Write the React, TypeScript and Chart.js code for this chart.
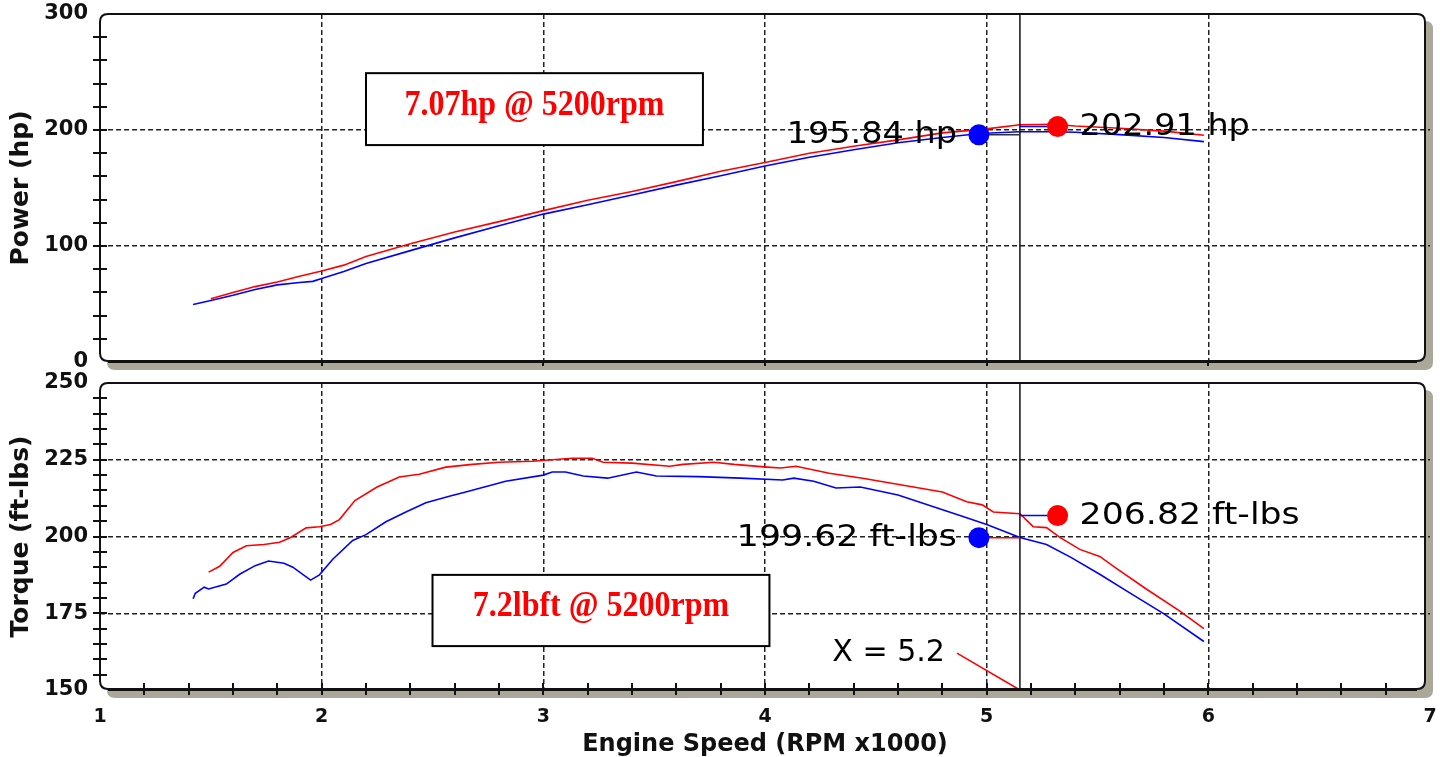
import React, { useEffect, useRef } from "react";
import { Chart, registerables } from "chart.js";
Chart.register(...registerables);

// ---------------- data ----------------
const xTickValues = [1, 2, 3, 4, 5, 6, 7];
const powerTicks = [0, 100, 200, 300];
const torqueTicks = [150, 175, 200, 225, 250];

const bluePowerRpm = [1.42, 1.5, 1.6, 1.7, 1.8, 1.9, 1.96, 2.0, 2.1, 2.2, 2.4, 2.6, 2.8, 3.0, 3.2, 3.4, 3.6, 3.8, 4.0, 4.2, 4.4, 4.6, 4.8, 4.97, 5.15, 5.3, 5.4, 5.6, 5.8, 5.98];
const bluePowerHp = [49.5, 53, 57.5, 62.5, 66.5, 68.5, 69.5, 72, 78, 85, 96, 107, 117.5, 127.5, 135.5, 144, 152.5, 160.5, 169, 176.5, 183, 189, 193.5, 197, 198.5, 198.5, 198, 196, 193.5, 190];

const redPowerRpm = [1.5, 1.6, 1.7, 1.8, 1.9, 2.0, 2.1, 2.2, 2.4, 2.6, 2.8, 3.0, 3.2, 3.4, 3.6, 3.8, 4.0, 4.2, 4.4, 4.6, 4.8, 5.0, 5.15, 5.3, 5.4, 5.6, 5.8, 5.98];
const redPowerHp = [54.5, 60, 65, 69, 74, 78.5, 83.5, 91, 102, 112, 121, 130.5, 139.5, 147, 155.5, 164.5, 172, 180, 186, 191.5, 197.5, 201, 204.5, 205, 203.5, 201.5, 199, 195.5];

const blueTorqueRpm = [1.42, 1.43, 1.47, 1.49, 1.57, 1.63, 1.7, 1.76, 1.83, 1.87, 1.95, 1.99, 2.05, 2.14, 2.2, 2.29, 2.38, 2.47, 2.58, 2.65, 2.83, 3.0, 3.04, 3.1, 3.18, 3.29, 3.42, 3.51, 3.7, 3.89, 4.08, 4.13, 4.22, 4.32, 4.43, 4.6, 4.76, 4.91, 5.0, 5.15, 5.27, 5.38, 5.51, 5.64, 5.8, 5.98];
const blueTorqueLbft = [179.7, 181.5, 183.5, 182.9, 184.5, 187.7, 190.5, 192, 191.3, 190, 185.8, 187.5, 192.6, 198.7, 200.6, 204.8, 208, 211, 213.2, 214.5, 218, 220, 221, 221, 219.7, 219, 221, 219.7, 219.5, 219, 218.4, 219, 218, 215.8, 216.1, 213.5, 209.7, 206.1, 203.9, 199.7, 197.4, 193.2, 187.7, 181.9, 174.8, 165.8];

const redTorqueRpm = [1.49, 1.54, 1.6, 1.66, 1.74, 1.81, 1.86, 1.93, 1.99, 2.04, 2.08, 2.15, 2.25, 2.35, 2.44, 2.56, 2.68, 2.8, 2.95, 3.13, 3.22, 3.27, 3.4, 3.57, 3.63, 3.77, 3.86, 4.01, 4.07, 4.14, 4.29, 4.44, 4.67, 4.8, 4.91, 4.98, 5.03, 5.15, 5.21, 5.27, 5.33, 5.42, 5.51, 5.59, 5.72, 5.87, 5.98];
const redTorqueLbft = [188.4, 190.3, 194.8, 197, 197.4, 198.1, 199.7, 202.8, 203.2, 203.9, 205.5, 211.7, 216.1, 219.4, 220.3, 222.6, 223.5, 224.2, 224.5, 225.5, 225.5, 224.2, 223.9, 222.9, 223.5, 224.2, 223.5, 222.6, 222.3, 222.9, 220.6, 219, 216.1, 214.5, 211.3, 210.3, 208, 207.4, 203.2, 202.9, 199.7, 195.8, 193.5, 189.4, 182.9, 175.8, 170];

const markerRpm = [4.965, 5.32]; // blue run, red run
const powerMarkerValues = [195.84, 202.91];
const torqueMarkerValues = [199.62, 206.82];
const cursorRpm = 5.15;

const powerLabels = ["195.84 hp", "202.91 hp"];
const torqueLabels = ["199.62 ft-lbs", "206.82 ft-lbs"];
const cursorLabel = "X = 5.2";
const powerBoxText = "7.07hp @ 5200rpm";
const torqueBoxText = "7.2lbft @ 5200rpm";

// ---------------- helpers ----------------
const RED = "#ff0000";
const BLUE = "#0000ff";
const GRID = "#222222";

function pts(xs: number[], ys: number[]) {
  return xs.map((x, i) => ({ x, y: ys[i] }));
}

function roundRectPath(ctx: CanvasRenderingContext2D, x: number, y: number, w: number, h: number, r: number) {
  ctx.beginPath();
  ctx.moveTo(x + r, y);
  ctx.lineTo(x + w - r, y);
  ctx.quadraticCurveTo(x + w, y, x + w, y + r);
  ctx.lineTo(x + w, y + h - r);
  ctx.quadraticCurveTo(x + w, y + h, x + w - r, y + h);
  ctx.lineTo(x + r, y + h);
  ctx.quadraticCurveTo(x, y + h, x, y + h - r);
  ctx.lineTo(x, y + r);
  ctx.quadraticCurveTo(x, y, x + r, y);
  ctx.closePath();
}

function drawScaledText(ctx: CanvasRenderingContext2D, text: string, x: number, y: number, align: CanvasTextAlign, font: string, color: string, sx: number, sy = 1, baseline: CanvasTextBaseline = "middle") {
  ctx.save();
  ctx.translate(x, y);
  ctx.scale(sx, sy);
  ctx.font = font;
  ctx.fillStyle = color;
  ctx.textAlign = align;
  ctx.textBaseline = baseline;
  ctx.fillText(text, 0, 0);
  ctx.restore();
}

type PanelCfg = {
  name: string;
  yStep: number;
  xMinor: boolean;
  labelScale: number;
  box: { x0: number; x1: number; y0: number; y1: number; text: string };
  labels: { text: string; x: number; y: number; align: CanvasTextAlign; dx: number }[];
  leader?: { text: string; x0: number; y0: number; x1: number; y1: number };
};

function panelPlugin(cfg: PanelCfg) {
  return {
    id: "panel_" + cfg.name,
    beforeDraw(chart: any) {
      const { ctx, chartArea: a } = chart;
      const l = a.left, t = a.top, r = a.right - 5, b = a.bottom - 1;
      ctx.save();
      ctx.fillStyle = "#aca899";
      roundRectPath(ctx, l + 7, t + 7, r - l + 1, b - t + 2, 8);
      ctx.fill();
      ctx.fillStyle = "#ffffff";
      roundRectPath(ctx, l, t, r - l, b - t, 8);
      ctx.fill();
      ctx.restore();
    },
    afterDatasetsDraw(chart: any) {
      const { ctx } = chart;
      const xs = chart.scales.x, ys = chart.scales.y;
      ctx.save();
      const bx0 = xs.getPixelForValue(cfg.box.x0), bx1 = xs.getPixelForValue(cfg.box.x1);
      const by0 = ys.getPixelForValue(cfg.box.y0), by1 = ys.getPixelForValue(cfg.box.y1);
      ctx.fillStyle = "#ffffff";
      ctx.fillRect(bx0, by0, bx1 - bx0, by1 - by0);
      ctx.strokeStyle = "#000000";
      ctx.lineWidth = 2;
      ctx.strokeRect(bx0, by0, bx1 - bx0, by1 - by0);
      drawScaledText(ctx, cfg.box.text, (bx0 + bx1) / 2, (by0 + by1) / 2 + 6, "center", "bold 32px 'Liberation Serif'", RED, 1, 1.13, "alphabetic");
      cfg.labels.forEach((lb) => {
        drawScaledText(ctx, lb.text, xs.getPixelForValue(lb.x) + lb.dx, ys.getPixelForValue(lb.y), lb.align, "31px 'DejaVu Sans'", "#000000", cfg.labelScale);
      });
      if (cfg.leader) {
        const L = cfg.leader;
        const x0 = xs.getPixelForValue(L.x0), y0 = ys.getPixelForValue(L.y0);
        const x1 = xs.getPixelForValue(L.x1), y1 = ys.getPixelForValue(L.y1);
        drawScaledText(ctx, L.text, x0 - 12, y0, "right", "31px 'DejaVu Sans'", "#000000", 0.97);
        ctx.strokeStyle = RED;
        ctx.lineWidth = 1.5;
        ctx.beginPath();
        ctx.moveTo(x0, y0);
        ctx.lineTo(x1, y1);
        ctx.stroke();
      }
      ctx.restore();
    },
    afterDraw(chart: any) {
      const { ctx, chartArea: a } = chart;
      const xs = chart.scales.x, ys = chart.scales.y;
      const l = a.left, t = a.top, r = a.right - 5, b = a.bottom - 1;
      ctx.save();
      ctx.strokeStyle = "#111111";
      ctx.lineWidth = 2;
      roundRectPath(ctx, l, t, r - l, b - t, 8);
      ctx.stroke();
      ctx.beginPath();
      ctx.moveTo(l + 8, b + 1);
      ctx.lineTo(r - 8, b + 1);
      ctx.stroke();
      ctx.lineWidth = 2;
      ctx.beginPath();
      for (let v = ys.min + cfg.yStep; v < ys.max - 1e-6; v += cfg.yStep) {
        const y = Math.round(ys.getPixelForValue(v));
        ctx.moveTo(l - 7, y);
        ctx.lineTo(l + 7, y);
      }
      ctx.stroke();
      ctx.beginPath();
      if (cfg.xMinor) {
        for (let k = 1; k < 30; k++) {
          const v = xs.min + k * 0.2;
          const x = Math.round(xs.getPixelForValue(v));
          ctx.moveTo(x, b - 6);
          ctx.lineTo(x, b + 6);
        }
      } else {
        for (let v = xs.min + 1; v < xs.max; v += 1) {
          const x = Math.round(xs.getPixelForValue(v));
          ctx.moveTo(x, b);
          ctx.lineTo(x, b + 5);
        }
      }
      ctx.stroke();
      ctx.restore();
    },
  };
}

function gridColor(min: number, max: number) {
  return (c: any) => {
    const v = c.tick ? c.tick.value : null;
    if (v === null || Math.abs(v - min) < 1e-6 || Math.abs(v - max) < 1e-6) return "rgba(0,0,0,0)";
    return GRID;
  };
}

function zeroPadding(s: any) {
  s.paddingTop = 0;
  s.paddingBottom = 0;
  s.paddingLeft = 0;
  s.paddingRight = 0;
}

const tickFontY = { family: "'DejaVu Sans'", weight: "bold" as const, size: 21 };
const titleFontY = { family: "'DejaVu Sans'", weight: "bold" as const, size: 25, lineHeight: 1 };

function lineDs(data: any[], color: string, order: number, width = 1.6) {
  return {
    data,
    showLine: true,
    borderColor: color,
    backgroundColor: color,
    borderWidth: width,
    pointRadius: 0,
    pointHoverRadius: 0,
    tension: 0,
    fill: false,
    order,
  };
}

function markerDs(x: number, y: number, color: string) {
  return {
    data: [{ x, y }],
    showLine: false,
    pointRadius: 10.5,
    pointBackgroundColor: color,
    pointBorderColor: color,
    pointBorderWidth: 0,
    order: 0,
  };
}

export default function App() {
  const topRef = useRef<HTMLCanvasElement>(null);
  const botRef = useRef<HTMLCanvasElement>(null);

  useEffect(() => {
    document.body.style.margin = "0";
    const xScaleBase = (showLabels: boolean) => ({
      type: "linear" as const,
      min: xTickValues[0],
      max: xTickValues[xTickValues.length - 1],
      afterBuildTicks: (s: any) => {
        s.ticks = xTickValues.map((v) => ({ value: v }));
      },
      ticks: {
        display: showLabels,
        color: "#111111",
        padding: 16,
        font: { family: "'DejaVu Sans'", weight: "bold" as const, size: 19 },
        callback: (v: any) => String(v),
      },
      grid: { color: gridColor(1, 7), lineWidth: 1.5, drawTicks: false },
      border: { display: false, dash: [5, 3] },
      title: showLabels
        ? {
            display: true,
            text: "Engine Speed (RPM x1000)",
            color: "#111111",
            font: { family: "'DejaVu Sans'", weight: "bold" as const, size: 24, lineHeight: 1 },
            padding: { top: 0, bottom: 0 },
          }
        : { display: false },
      afterFit: (s: any) => {
        s.height = showLabels ? 67 : 0;
        zeroPadding(s);
      },
    });

    const yScale = (ticksArr: number[], title: string) => ({
      type: "linear",
      min: ticksArr[0],
      max: ticksArr[ticksArr.length - 1],
      afterBuildTicks: (s: any) => {
        s.ticks = ticksArr.map((v) => ({ value: v }));
      },
      ticks: { color: "#111111", padding: 12, font: tickFontY },
      grid: { color: gridColor(ticksArr[0], ticksArr[ticksArr.length - 1]), lineWidth: 1.5, drawTicks: false },
      border: { display: false, dash: [5, 3] },
      title: { display: true, text: title, color: "#111111", font: titleFontY, padding: { top: 9, bottom: 0 } },
      afterFit: (s: any) => {
        s.width = 100;
        zeroPadding(s);
      },
    });

    const top = new Chart(topRef.current!, {
      type: "scatter",
      data: {
        datasets: [
          markerDs(markerRpm[0], powerMarkerValues[0], BLUE),
          markerDs(markerRpm[1], powerMarkerValues[1], RED),
          lineDs([{ x: markerRpm[0], y: powerMarkerValues[0] }, { x: cursorRpm, y: powerMarkerValues[0] }], "#333333", 1, 1.5),
          lineDs([{ x: cursorRpm, y: powerMarkerValues[1] }, { x: markerRpm[1], y: powerMarkerValues[1] }], BLUE, 1, 1.5),
          lineDs([{ x: cursorRpm, y: powerTicks[0] }, { x: cursorRpm, y: powerTicks[powerTicks.length - 1] }], "#111111", 2, 1.5),
          lineDs(pts(redPowerRpm, redPowerHp), RED, 3),
          lineDs(pts(bluePowerRpm, bluePowerHp), BLUE, 4),
        ] as any,
      },
      options: {
        responsive: false,
        animation: false,
        events: [],
        layout: { padding: { left: 0, top: 14, right: 15, bottom: 395 } },
        plugins: { legend: { display: false }, tooltip: { enabled: false } },
        scales: {
          x: xScaleBase(false) as any,
          y: yScale(powerTicks, "Power (hp)") as any,
        },
      },
      plugins: [
        panelPlugin({
          name: "power",
          yStep: 20,
          xMinor: false,
          labelScale: 1.08,
          box: { x0: 2.2, x1: 3.72, y0: 249, y1: 187, text: powerBoxText },
          labels: [
            { text: powerLabels[0], x: markerRpm[0], y: powerMarkerValues[0], align: "right", dx: -22 },
            { text: powerLabels[1], x: markerRpm[1], y: powerMarkerValues[1], align: "left", dx: 22 },
          ],
        }),
      ],
    });

    const bot = new Chart(botRef.current!, {
      type: "scatter",
      data: {
        datasets: [
          markerDs(markerRpm[0], torqueMarkerValues[0], BLUE),
          markerDs(markerRpm[1], torqueMarkerValues[1], RED),
          lineDs([{ x: markerRpm[0], y: torqueMarkerValues[0] }, { x: cursorRpm, y: torqueMarkerValues[0] }], RED, 1, 1.5),
          lineDs([{ x: cursorRpm, y: torqueMarkerValues[1] }, { x: markerRpm[1], y: torqueMarkerValues[1] }], BLUE, 1, 1.5),
          lineDs([{ x: cursorRpm, y: torqueTicks[0] }, { x: cursorRpm, y: torqueTicks[torqueTicks.length - 1] }], "#111111", 2, 1.5),
          lineDs(pts(redTorqueRpm, redTorqueLbft), RED, 3),
          lineDs(pts(blueTorqueRpm, blueTorqueLbft), BLUE, 4),
        ] as any,
      },
      options: {
        responsive: false,
        animation: false,
        events: [],
        layout: { padding: { left: 0, top: 383, right: 15, bottom: 0 } },
        plugins: { legend: { display: false }, tooltip: { enabled: false } },
        scales: {
          x: xScaleBase(true) as any,
          y: yScale(torqueTicks, "Torque (ft-lbs)") as any,
        },
      },
      plugins: [
        panelPlugin({
          name: "torque",
          yStep: 5,
          xMinor: true,
          labelScale: 1.12,
          box: { x0: 2.5, x1: 4.02, y0: 187.5, y1: 164.3, text: torqueBoxText },
          labels: [
            { text: torqueLabels[0], x: markerRpm[0], y: torqueMarkerValues[0], align: "right", dx: -22 },
            { text: torqueLabels[1], x: markerRpm[1], y: torqueMarkerValues[1], align: "left", dx: 22 },
          ],
          leader: { text: cursorLabel, x0: 4.866, y0: 162, x1: cursorRpm, y1: torqueTicks[0] },
        }),
      ],
    });

    return () => {
      top.destroy();
      bot.destroy();
    };
  }, []);

  return (
    <div style={{ position: "relative", width: 1445, height: 757, background: "#ffffff" }}>
      <canvas ref={topRef} width={1445} height={757} style={{ position: "absolute", left: 0, top: 0 }} />
      <canvas ref={botRef} width={1445} height={757} style={{ position: "absolute", left: 0, top: 0 }} />
    </div>
  );
}
